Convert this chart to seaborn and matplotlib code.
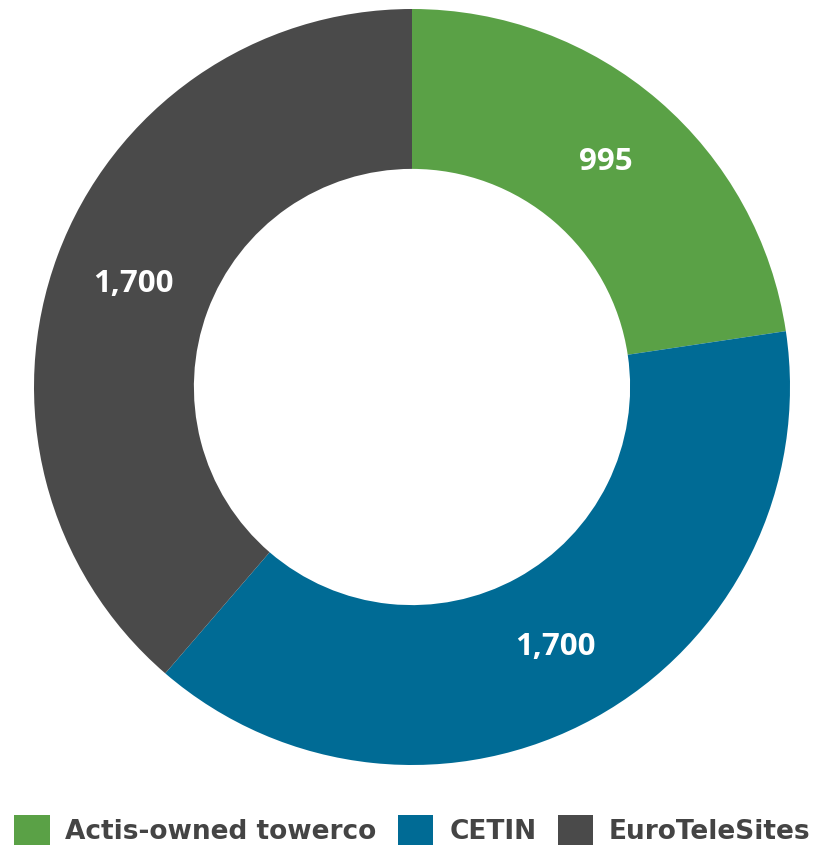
import matplotlib
matplotlib.use("Agg")
import matplotlib.pyplot as plt
import seaborn as sns
import numpy as np

categories = ["Actis-owned towerco", "CETIN", "EuroTeleSites"]
values = [995, 1700, 1700]
labels = ["995", "1,700", "1,700"]
colors = ["#5AA146", "#006B95", "#4A4A4A"]

sns.set_theme(style="white")
plt.rcParams['font.family'] = ['DejaVu Sans']

fig = plt.figure(figsize=(8.21, 8.47), dpi=100)
ax = fig.add_axes([34/821, 82/847, 756/821, 756/847])

wedges, _ = ax.pie(values, colors=colors, startangle=90, counterclock=False,
                   radius=1.0, wedgeprops=dict(width=0.423, linewidth=0))
total = sum(values)
start = 90.0
for v, lab in zip(values, labels):
    span = 360.0 * v / total
    mid = np.deg2rad(start - span / 2)
    ax.text(0.785 * np.cos(mid), 0.785 * np.sin(mid), lab, ha="center", va="center",
            color="white", fontsize=22.5, fontweight="bold", family=["Open Sans", "DejaVu Sans"])
    start -= span
ax.set_xlim(-1, 1)
ax.set_ylim(-1, 1)
ax.set_aspect("auto")
ax.axis("off")

leg = fig.legend(wedges, categories, loc="lower left", bbox_to_anchor=(14/821, 2/847),
                 ncol=3, frameon=False, borderaxespad=0, borderpad=0,
                 handlelength=1.35, handleheight=1.35, handletextpad=0.6,
                 columnspacing=0.8,
                 prop=dict(family="DejaVu Sans", weight="bold", size=19))
for t in leg.get_texts():
    t.set_color("#444444")

fig.savefig("out.png", dpi=100)
